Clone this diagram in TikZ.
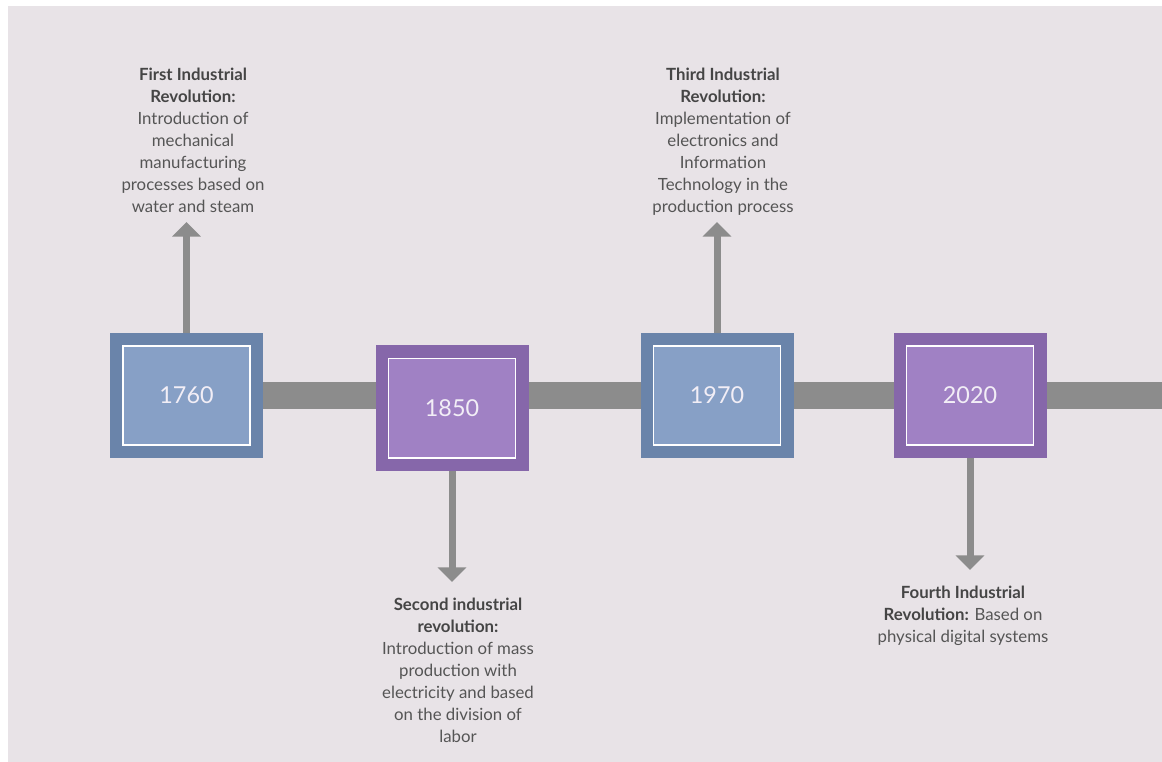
\documentclass[tikz,border=0pt]{standalone}
\usepackage{fontspec}
\setmainfont{Lato}
\usetikzlibrary{arrows.meta,backgrounds}
\definecolor{bgc}{HTML}{E8E3E7}
\definecolor{blueout}{HTML}{6A84AA}
\definecolor{bluein}{HTML}{87A0C6}
\definecolor{purpout}{HTML}{8667AA}
\definecolor{purpin}{HTML}{A081C4}
\definecolor{barc}{HTML}{8C8C8C}
\definecolor{txtc}{HTML}{555555}
\definecolor{ttlc}{HTML}{454545}
\definecolor{yearc}{HTML}{F2EEF6}
\tikzset{
  yearbox/.style n args={2}{rectangle, inner sep=0pt, fill=#1,
    minimum width=114.75pt, minimum height=93.75pt,
    text=yearc, font=\fontsize{17.5}{19}\selectfont,
    path picture={\draw[white, fill=#2, line width=1.4pt]
      ([shift={(9.75pt,9.5pt)}]path picture bounding box.south west) rectangle
      ([shift={(-9.75pt,-9.75pt)}]path picture bounding box.north east);}},
  bluebox/.style={yearbox={blueout}{bluein}},
  purplebox/.style={yearbox={purpout}{purpin}},
  desc/.style={align=center, inner sep=0pt, anchor=north, text=txtc,
    font=\fontsize{12.6}{16.5}\selectfont},
  connector/.style={draw=barc, line width=5.25pt,
    -{Triangle[width=21pt,length=11pt]}},
  timebar/.style={draw=barc, line width=20.25pt}
}
\newcommand{\ttl}[1]{{\bfseries\color{ttlc}#1}}
\begin{document}
\begin{tikzpicture}[x=0.75pt,y=-0.75pt]
\useasboundingbox (0,0) rectangle (1162,762);
\coordinate (barend) at (1162,395.5);
% year boxes
\node[bluebox]   (b1) at (186.5,395.5) {1760};
\node[purplebox] (b2) at (452,408) {1850};
\node[bluebox]   (b3) at (717,395.5) {1970};
\node[purplebox] (b4) at (970,395.5) {2020};
% background and timeline bar
\begin{scope}[on background layer]
\fill[bgc] (8,6) rectangle (1162,762);
\draw[timebar] (b1.center) -- (barend);
\end{scope}
% arrow ends
\coordinate (t1) at (186.5,222);
\coordinate (t2) at (452,582);
\coordinate (t3) at (717,222);
\coordinate (t4) at (970,570);
\draw[connector] (b1.north) -- (t1);
\draw[connector] (b2.south) -- (t2);
\draw[connector] (b3.north) -- (t3);
\draw[connector] (b4.south) -- (t4);
% descriptions
\node[desc] (d1) at (193,68) {\ttl{First Industrial}\\\ttl{Revolution:}\\Introduction of\\mechanical\\manufacturing\\processes based on\\water and steam};
\node[desc] (d2) at (458,598) {\ttl{Second industrial}\\\ttl{revolution:}\\Introduction of mass\\production with\\electricity and based\\on the division of\\labor};
\node[desc] (d3) at (723,68) {\ttl{Third Industrial}\\\ttl{Revolution:}\\Implementation of\\electronics and\\Information\\Technology in the\\production process};
\node[desc] (d4) at (963,586) {\ttl{Fourth Industrial}\\\ttl{Revolution:} Based on\\physical digital systems};
\end{tikzpicture}
\end{document}
